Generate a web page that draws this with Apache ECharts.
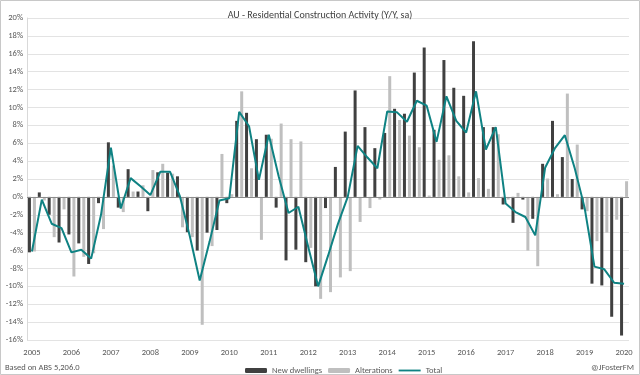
<!DOCTYPE html>
<html>
<head>
<meta charset="utf-8">
<script src="https://cdn.jsdelivr.net/npm/echarts@6/dist/echarts.min.js"></script>
<style>
html,body{margin:0;padding:0;background:#fff;}
#chart{width:640px;height:375px;}
</style>
</head>
<body>
<div id="chart"></div>
<script>
var quarters = [
 '2005Q1','2005Q2','2005Q3','2005Q4','2006Q1','2006Q2','2006Q3','2006Q4',
 '2007Q1','2007Q2','2007Q3','2007Q4','2008Q1','2008Q2','2008Q3','2008Q4',
 '2009Q1','2009Q2','2009Q3','2009Q4','2010Q1','2010Q2','2010Q3','2010Q4',
 '2011Q1','2011Q2','2011Q3','2011Q4','2012Q1','2012Q2','2012Q3','2012Q4',
 '2013Q1','2013Q2','2013Q3','2013Q4','2014Q1','2014Q2','2014Q3','2014Q4',
 '2015Q1','2015Q2','2015Q3','2015Q4','2016Q1','2016Q2','2016Q3','2016Q4',
 '2017Q1','2017Q2','2017Q3','2017Q4','2018Q1','2018Q2','2018Q3','2018Q4',
 '2019Q1','2019Q2','2019Q3','2019Q4','2020Q1'
];
var newDwellings = [
 -6.2, 0.5, -2.0, -5.1, -4.2, -5.2, -7.5, -0.7,
 6.1, -1.2, 3.1, 0.6, -1.6, 2.75, 2.7, 2.3,
 -3.95, -6.0, -4.0, -3.7, -0.7, 8.5, 9.4, 6.45,
 6.95, -1.2, -7.1, -5.9, -7.3, -10.0, -1.25, 3.35,
 7.3, 11.9, 7.8, 5.45, 7.15, 9.85, 9.3, 13.9,
 16.7, 7.5, 15.3, 12.2, 11.3, 17.4, 7.8, 7.8,
 -0.85, -2.9, -0.3, -2.45, 3.7, 8.5, 4.45, 2.0,
 -1.4, -9.7, -9.9, -13.4, -15.5
];
var alterations = [
 -6.1, -0.4, -4.5, -1.4, -8.9, -6.7, -6.3, -3.6,
 3.5, -1.7, 0.6, 1.3, 3.0, 3.7, 2.6, -3.4,
 -4.5, -14.3, -5.5, 4.8, 0.3, 11.8, 3.2, -4.8,
 6.5, 8.2, 6.45, 6.2, -5.7, -11.4, -10.65, -9.0,
 -8.3, -2.8, -1.25, -0.3, 13.5, 8.6, 6.85, 5.55,
 0.15, 4.15, 4.65, 2.3, 0.5, 2.1, 0.9, 7.0,
 -0.3, 0.45, -6.0, -7.75, 2.05, 0.3, 11.55, 5.85,
 -1.6, -4.95, -4.0, -2.55, 1.75
];
var total = [
 -6.1, -0.3, -3.0, -3.5, -6.2, -5.9, -6.9, -2.0,
 5.5, -1.3, 2.1, 1.2, 0.2, 2.8, 2.8, 0.05,
 -4.4, -9.35, -5.0, -0.4, -0.15, 9.5, 7.9, 1.9,
 6.95, 2.3, -1.8, -1.1, -5.6, -10.0, -6.6, -3.05,
 0.0, 5.7, 4.4, 3.2, 9.55, 9.45, 8.4, 10.75,
 10.2, 6.15, 11.25, 8.5, 7.2, 11.8, 5.3, 7.8,
 -0.75, -1.7, -2.25, -4.3, 3.25, 5.45, 6.9, 3.2,
 -1.2, -7.8, -8.1, -9.6, -9.7
];

var FONT = "Carlito, Calibri, 'Liberation Sans Narrow', 'Liberation Sans', sans-serif";
var TXT = '#595959';

var chart = echarts.init(document.getElementById('chart'), null, {renderer: 'canvas'});
chart.setOption({
  animation: false,
  backgroundColor: '#ffffff',
  textStyle: {fontFamily: FONT},
  title: {
    text: 'AU - Residential Construction Activity (Y/Y, sa)',
    left: 'center', top: 5,
    textStyle: {fontFamily: FONT, fontSize: 10, fontWeight: 'normal', color: '#404040'}
  },
  grid: {left: 27, top: 18, width: 602, height: 322, containLabel: false},
  legend: {
    top: 361, left: 240,
    itemWidth: 22, itemHeight: 5, itemGap: 6,
    textStyle: {fontFamily: FONT, fontSize: 8.5, color: TXT},
    data: ['New dwellings', 'Alterations', {name: 'Total', icon: 'path://M0,0 L24,0 L24,2 L0,2 Z'}]
  },
  xAxis: {
    type: 'category',
    data: quarters,
    boundaryGap: true,
    axisLine: {show: false},
    axisTick: {show: false},
    axisLabel: {
      interval: 3, margin: 8, fontSize: 8.5, color: TXT, fontFamily: FONT,
      formatter: function (v) { return v.slice(0, 4); }
    },
    splitLine: {show: false}
  },
  yAxis: {
    type: 'value', min: -16, max: 20, interval: 2,
    axisLine: {show: true, lineStyle: {color: '#d9d9d9'}},
    axisTick: {show: false},
    axisLabel: {formatter: '{value}%', fontSize: 8.5, color: TXT, margin: 4, fontFamily: FONT},
    splitLine: {lineStyle: {color: '#e3e3e3', width: 1}}
  },
  series: [
    {
      name: 'New dwellings', type: 'bar', data: newDwellings,
      barWidth: 3, barGap: '67%',
      itemStyle: {color: '#404040'}
    },
    {
      name: 'Alterations', type: 'bar', data: alterations,
      barWidth: 3,
      itemStyle: {color: '#bfbfbf'}
    },
    {
      name: 'Total', type: 'line', data: total,
      symbol: 'none', z: 5,
      lineStyle: {color: '#0f8283', width: 2},
      itemStyle: {color: '#0f8283'},
      markLine: {
        silent: true, symbol: 'none', animation: false,
        label: {show: false},
        lineStyle: {color: '#8c8c8c', width: 1, type: 'solid'},
        data: [{yAxis: 0}]
      }
    }
  ],
  graphic: [
    {type: 'rect', shape: {x: 0.5, y: 0.5, width: 639, height: 374},
     style: {fill: 'none', stroke: '#c8c8c8', lineWidth: 1}, silent: true},
    {type: 'text', left: 5, top: 363,
     style: {text: 'Based on ABS 5,206.0', fontFamily: FONT, fontSize: 8.5, fill: TXT}},
    {type: 'text', right: 6, top: 363,
     style: {text: '@JFosterFM', fontFamily: FONT, fontSize: 8.5, fill: TXT}}
  ]
});
</script>
</body>
</html>
